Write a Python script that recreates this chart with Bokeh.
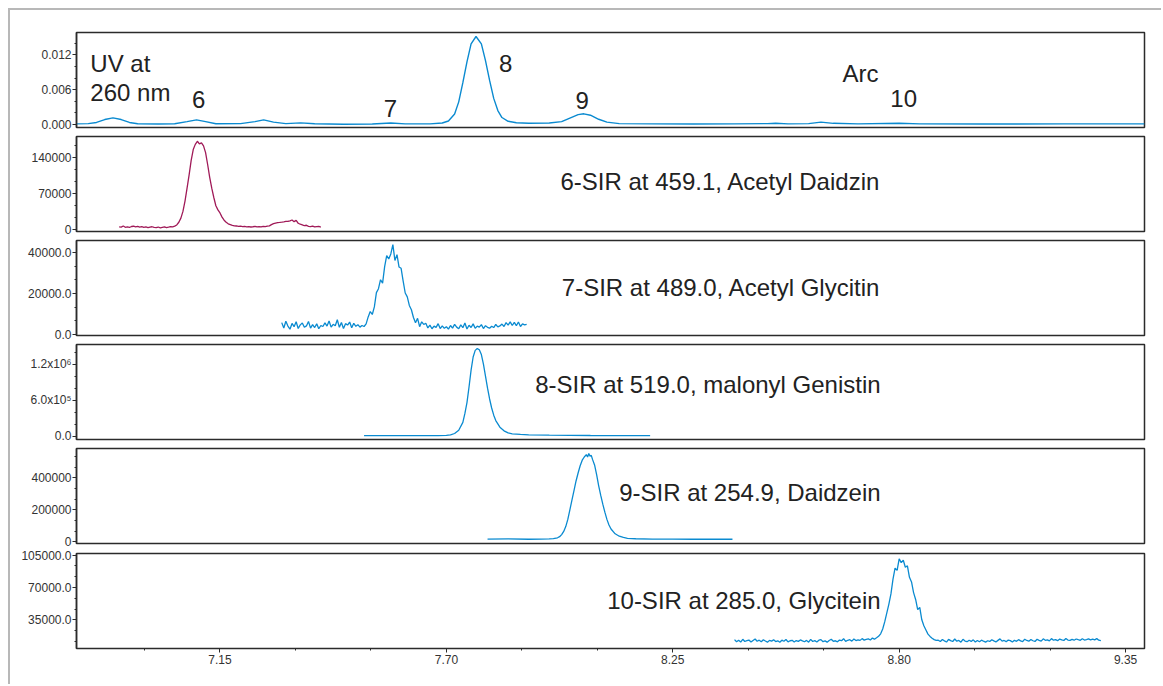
from bokeh.plotting import figure
from bokeh.layouts import column
from bokeh.models import Range1d, FixedTicker, PrintfTickFormatter, Label
from bokeh.embed import file_html
from bokeh.resources import INLINE

# ---------------- data ----------------
X_MIN, X_MAX = 6.8014, 9.396
x_ticks = [7.15, 7.70, 8.25, 8.80, 9.35]

# UV trace at 260 nm (absorbance)
uv_time = [6.80, 6.83, 6.85, 6.87, 6.89, 6.91, 6.93, 6.95, 7.00, 7.04, 7.07, 7.093, 7.115, 7.14,
           7.20, 7.235, 7.256, 7.28, 7.31, 7.346, 7.38, 7.45, 7.52, 7.565, 7.60, 7.66, 7.69,
           7.705, 7.72, 7.73, 7.74, 7.75, 7.76, 7.772, 7.785, 7.795, 7.805, 7.815, 7.825, 7.835,
           7.85, 7.87, 7.90, 7.95, 7.98, 8.00, 8.02, 8.034, 8.05, 8.07, 8.09, 8.12, 8.20, 8.30,
           8.40, 8.48, 8.50, 8.53, 8.58, 8.61, 8.64, 8.70, 8.80, 8.85, 9.00, 9.20, 9.396]
uv_abs = [0.00010, 0.00015, 0.00035, 0.00085, 0.00115, 0.00085, 0.00035, 0.00012, 0.00008,
          0.00012, 0.00050, 0.00080, 0.00050, 0.00012, 0.00015, 0.00050, 0.00080, 0.00040,
          0.00015, 0.00028, 0.00012, 0.00005, 0.00008, 0.00025, 0.00010, 0.00010, 0.00025,
          0.00060, 0.00180, 0.00390, 0.00720, 0.01080, 0.01390, 0.01517, 0.01390, 0.01100,
          0.00760, 0.00450, 0.00240, 0.00120, 0.00055, 0.00030, 0.00020, 0.00025, 0.00050,
          0.00110, 0.00170, 0.00184, 0.00160, 0.00090, 0.00040, 0.00015, 0.00010, 0.00008,
          0.00010, 0.00015, 0.00020, 0.00010, 0.00015, 0.00040, 0.00020, 0.00010, 0.00020,
          0.00010, 0.00008, 0.00010, 0.00010]

# 6-SIR at 459.1 (counts, thousands), sampled every 0.005 min in segments
sir6_segments = [
    (6.905, [5.2, 4.6, 6.8, 4.2, 5.0, 3.9, 5.8, 6.3, 5.1, 5.9, 4.7, 5.6, 4.3, 5.0, 3.8, 4.6, 5.3,
             4.0, 3.6, 4.8, 3.3, 4.2, 5.1, 3.7, 4.4, 5.6, 4.9]),
    (7.040, [6.5, 8.8, 14, 22, 35, 55, 80, 106, 134, 155, 165, 171, 166, 168, 162, 149, 126, 101,
             80, 62, 46, 38, 32, 24, 18, 14, 11, 9.5, 8, 7]),
    (7.190, [6.8, 6.1, 6.4, 5.5, 5.9, 5.2, 5.6, 4.8, 5.3, 5.9, 4.9, 5.5, 5.0, 6.2, 5.4, 6.6, 7.0]),
    (7.275, [9.5, 11.5, 12.5, 13.2, 13.6, 14.1, 14.8, 15.6, 15.9, 16.8, 18.4, 15.2, 17.6, 12.1,
             10.2, 9.1, 7.3, 8.2, 6.1, 5.4, 6.6, 4.9, 5.6, 6.1, 4.8]),
]

# 7-SIR at 489.0 (thousands)
sir7_segments = [
    (7.300, [5.8, 3.2, 6.5, 4.1, 2.6, 5.4, 3.8, 6.2, 2.9, 4.7, 5.6, 3.5, 4.2, 6.4, 3.1, 4.8, 3.4,
             5.2, 2.8, 4.4, 3.9, 5.7, 4.1, 6.6, 3.6, 5.0, 4.3, 7.2, 3.5, 5.9, 2.9, 5.3, 4.6, 6.1,
             3.3, 5.5, 4.0, 4.8, 3.6, 4.4, 3.9]),
    (7.505, [5.2, 8.6, 11.2, 9.8, 13.5, 20.5, 22.4, 26.8, 25.1, 33.2, 38.6, 37.0, 39.4, 44.0,
             36.2, 39.1, 33.0, 32.4, 26.1, 20.3, 18.4, 14.2, 12.1, 8.3, 5.7, 7.9, 3.8, 6.2, 4.9]),
    (7.650, [5.5, 3.2, 4.6, 2.8, 4.1, 3.5, 5.3, 2.9, 4.2, 3.0, 3.8, 2.6, 4.4, 3.1, 5.0, 3.6, 2.8,
             4.7, 3.3, 5.6, 2.7, 4.5, 3.4, 5.2, 3.0, 4.1, 3.6, 4.8, 2.9, 4.3, 3.5, 3.1, 4.0, 3.4,
             4.9, 3.7, 4.2, 5.1, 3.9, 5.8, 4.6, 6.2, 4.4, 5.9, 4.3, 6.1, 3.9, 5.2, 4.7, 5.0]),
]

# 8-SIR at 519.0
sir8_time = [7.50, 7.55, 7.60, 7.65, 7.68, 7.70, 7.71, 7.72, 7.73, 7.74, 7.745, 7.75, 7.755,
             7.76, 7.765, 7.77, 7.775, 7.78, 7.785, 7.79, 7.795, 7.80, 7.805, 7.81, 7.815, 7.82,
             7.83, 7.84, 7.85, 7.86, 7.88, 7.90, 7.95, 8.00, 8.05, 8.10, 8.15, 8.195]
sir8_counts = [8000, 8000, 8000, 9000, 10000, 14000, 22000, 45000, 100000, 230000, 380000,
               560000, 820000, 1100000, 1320000, 1430000, 1460000, 1440000, 1360000, 1200000,
               1000000, 800000, 620000, 470000, 350000, 260000, 150000, 90000, 55000, 40000,
               30000, 22000, 17000, 14000, 12000, 11000, 10000, 10000]

# 9-SIR at 254.9
sir9_time = [7.80, 7.85, 7.90, 7.93, 7.95, 7.96, 7.97, 7.975, 7.98, 7.985, 7.99, 7.995, 8.00,
             8.005, 8.01, 8.015, 8.02, 8.025, 8.03, 8.035, 8.04, 8.043, 8.046, 8.049, 8.052,
             8.055, 8.06, 8.065, 8.07, 8.075, 8.08, 8.085, 8.09, 8.095, 8.10, 8.11, 8.12, 8.13,
             8.14, 8.16, 8.20, 8.25, 8.30, 8.35, 8.395]
sir9_counts = [17000, 18000, 16000, 17000, 18000, 20000, 25000, 32000, 45000, 65000, 95000,
               140000, 200000, 260000, 320000, 380000, 430000, 475000, 510000, 530000, 545000,
               530000, 552000, 535000, 540000, 515000, 480000, 420000, 350000, 290000, 235000,
               185000, 140000, 105000, 80000, 50000, 35000, 27000, 22000, 19000, 17000, 17000,
               16000, 17000, 16000]

# 10-SIR at 285.0 (thousands)
sir10_segments = [
    (8.400, [13.5, 11.2, 12.8, 10.9, 13.9, 11.5, 12.4, 13.1, 11.0, 12.6, 14.2, 11.8, 12.9, 11.3,
             13.4, 12.0, 10.8, 12.7, 11.9, 13.3, 11.4, 12.2, 10.6, 12.9, 11.7, 13.6, 11.1, 12.3,
             12.8, 10.9, 12.5, 11.6, 13.2, 12.1, 11.2, 12.7, 10.7, 13.8, 11.5, 12.4, 11.0, 12.9,
             13.5, 11.3, 12.2, 10.8, 12.6, 13.9, 11.7, 12.3, 11.1, 13.0, 12.4, 14.5, 11.6, 12.8,
             13.4, 11.9, 14.1, 12.5, 13.2, 12.7, 14.6, 13.0, 13.8, 14.4, 13.1, 15.2, 14.0]),
    (8.745, [15.5, 17.2, 19.8, 25.0, 33.0, 42.5, 52.0, 63.0, 79.0, 91.0, 88.5, 101.0, 97.0, 99.5,
             92.0, 93.5, 81.0, 76.0, 64.5, 57.0, 46.0, 48.5, 35.0, 28.5, 24.0, 19.5, 17.0, 15.0,
             13.5, 12.6]),
    (8.895, [12.9, 11.4, 13.6, 12.2, 10.9, 13.8, 12.4, 11.5, 14.2, 11.8, 12.6, 10.7, 13.9, 12.0,
             11.3, 12.8, 11.6, 13.3, 10.9, 12.5, 11.2, 12.9, 11.8, 10.8, 12.3, 11.5, 13.4, 12.1,
             11.0, 12.7, 14.3, 11.9, 12.6, 11.3, 13.1, 12.4, 10.9, 12.8, 11.7, 13.5, 12.2, 11.4,
             14.0, 12.6, 11.8, 13.7, 12.3, 11.5, 13.9, 12.7, 11.9, 14.4, 12.8, 13.3, 12.1, 14.6,
             12.9, 13.5, 12.4, 14.1, 13.2, 12.6, 14.8, 13.0, 12.7, 13.8, 12.9, 14.2, 13.4, 12.8,
             14.5, 13.1, 13.6, 14.3, 13.2, 14.0, 13.3, 14.6, 12.9, 12.4]),
]
SAMPLE_STEP = 0.005

BLUE = "#0a8ad0"
MAROON = "#a01a58"
FONT = "Liberation Sans"


def unfold(segments, scale=1000.0):
    xs, ys = [], []
    for start, vals in segments:
        for i, v in enumerate(vals):
            xs.append(start + i * SAMPLE_STEP)
            ys.append(v * scale)
    return xs, ys


xr = Range1d(X_MIN, X_MAX)


def minor_list(major, lo, hi, n=3):
    step = (major[1] - major[0]) / n
    out = []
    base = major[0]
    for k in range(-60, 200):
        v = base + k * step
        if lo <= v <= hi and all(abs(v - m) > step * 1e-3 for m in major):
            out.append(v)
    return out


def panel(y0, y1, major, fmt=None, overrides=None, top=3, bottom=6, show_x=False):
    p = figure(width=1151, height=top + 95 + bottom, x_range=xr, y_range=Range1d(y0, y1),
               output_backend="svg", toolbar_location=None,
               x_axis_location="below" if show_x else None,
               min_border_left=66, min_border_right=17, min_border_top=top,
               min_border_bottom=bottom)
    p.grid.visible = False
    p.outline_line_color = "#2b2b2b"
    p.outline_line_width = 1.5
    p.outline_line_alpha = 1.0
    p.background_fill_color = "white"
    p.border_fill_color = "white"
    ax = p.yaxis[0]
    ax.ticker = FixedTicker(ticks=major, minor_ticks=minor_list(major, y0, y1))
    if fmt:
        ax.formatter = PrintfTickFormatter(format=fmt)
    if overrides:
        ax.major_label_overrides = overrides
    ax.axis_line_color = "#2b2b2b"
    ax.axis_line_width = 1.5
    ax.major_tick_in = 0
    ax.major_tick_out = 4
    ax.minor_tick_in = 0
    ax.minor_tick_out = 2
    ax.major_tick_line_color = "#2b2b2b"
    ax.minor_tick_line_color = "#2b2b2b"
    ax.major_label_standoff = 1
    ax.major_label_text_font = FONT
    ax.major_label_text_font_size = "12px"
    ax.major_label_text_color = "#333333"
    if show_x:
        xa = p.xaxis[0]
        minors = []
        for m in x_ticks:
            for k in (-2, -1, 1, 2):
                v = m + k * 0.55 / 3
                if X_MIN <= v <= X_MAX and all(abs(v - q) > 1e-6 for q in x_ticks + minors):
                    minors.append(v)
        xa.ticker = FixedTicker(ticks=x_ticks, minor_ticks=sorted(minors))
        xa.formatter = PrintfTickFormatter(format="%.2f")
        xa.axis_line_color = None
        xa.major_tick_in = 0
        xa.major_tick_out = 4
        xa.minor_tick_in = 0
        xa.minor_tick_out = 2
        xa.major_tick_line_color = "#2b2b2b"
        xa.minor_tick_line_color = "#2b2b2b"
        xa.major_label_standoff = 2
        xa.major_label_text_font = FONT
        xa.major_label_text_font_size = "12px"
        xa.major_label_text_color = "#333333"
    return p


def label(p, x, y, text, align="left", size="24px"):
    p.add_layout(Label(x=x, y=y, text=text, text_font=FONT, text_font_size=size,
                       text_color="#222222", text_align=align, text_baseline="middle"))


# Panel 1: UV
p1 = panel(-0.00052, 0.01586, [0.0, 0.006, 0.012], fmt="%.3f", top=22, bottom=6)
p1.line(uv_time, uv_abs, line_color=BLUE, line_width=1.4)
label(p1, 6.835, 0.01043, "UV at")
label(p1, 6.835, 0.0056, "260 nm")
label(p1, 7.098, 0.0043, "6", "center")
label(p1, 7.564, 0.0028, "7", "center")
label(p1, 7.844, 0.0105, "8", "center")
label(p1, 8.030, 0.0042, "9", "center")
label(p1, 8.706, 0.0088, "Arc", "center")
label(p1, 8.811, 0.0044, "10", "center")

# Panel 2
p2 = panel(-3900, 180250, [0, 70000, 140000], fmt="%d")
x6, y6 = unfold(sir6_segments)
p2.line(x6, y6, line_color=MAROON, line_width=1.3)
label(p2, 8.755, 92700, "6-SIR at 459.1, Acetyl Daidzin", "right")

# Panel 3
p3 = panel(-500, 46000, [0, 20000, 40000], fmt="%.1f")
x7, y7 = unfold(sir7_segments)
p3.line(x7, y7, line_color=BLUE, line_width=1.3)
label(p3, 8.755, 23070, "7-SIR at 489.0, Acetyl Glycitin", "right")

# Panel 4
p4 = panel(-55000, 1528000, [0, 600000, 1200000],
           overrides={0: "0.0", 600000: "6.0x10\u2075", 1200000: "1.2x10\u2076"})
p4.line(sir8_time, sir8_counts, line_color=BLUE, line_width=1.3)
label(p4, 8.755, 861700, "8-SIR at 519.0, malonyl Genistin", "right")

# Panel 5
p5 = panel(-10600, 583000, [0, 200000, 400000], fmt="%d", bottom=5)
p5.line(sir9_time, sir9_counts, line_color=BLUE, line_width=1.3)
label(p5, 8.755, 308000, "9-SIR at 254.9, Daidzein", "right")

# Panel 6
p6 = panel(3900, 106840, [35000, 70000, 105000], fmt="%.1f", top=5, bottom=36, show_x=True)
x10, y10 = unfold(sir10_segments)
p6.line(x10, y10, line_color=BLUE, line_width=1.3)
label(p6, 8.755, 55900, "10-SIR at 285.0, Glycitein", "right")

layout = column(p1, p2, p3, p4, p5, p6, spacing=0,
                styles={"border-top": "2px solid #b8b8b8", "border-left": "2px solid #b8b8b8",
                        "margin-left": "8px", "margin-top": "8px"})

open("out.html", "w").write(file_html(layout, INLINE))
